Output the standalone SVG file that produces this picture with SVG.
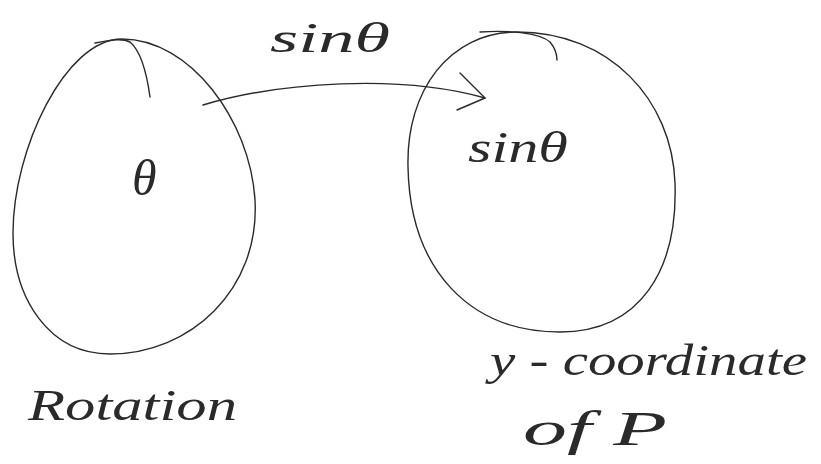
<svg xmlns="http://www.w3.org/2000/svg" width="821" height="464" viewBox="0 0 821 464">
<style>
.ln{fill:none;stroke:#2a2a2a;stroke-width:1.4;stroke-linecap:round;stroke-linejoin:round}
.tx{font-family:"Liberation Serif",serif;font-style:italic;fill:#2a2a2a}
</style>
<rect width="821" height="464" fill="#ffffff"/>
<g id="node-rotation">
<path class="ln" d="M 122,39 C 190,39 250,120 255,200 C 260,290 190,354 110,354 C 50,354 13,300 13,233 C 13,150 65,39 122,39 Z"/>
<path class="ln" d="M 95,43 C 110,40 122,38 130,42 C 142,52 147,75 150,97"/>
<text class="tx" x="132" y="195" font-size="50">θ</text>
<text class="tx" x="28" y="420" font-size="44" textLength="209" lengthAdjust="spacingAndGlyphs">Rotation</text>
</g>
<g id="node-ycoord">
<path class="ln" d="M 517,32 C 610,32 672,100 675,183 C 678,270 640,332 560,332 C 470,332 410,270 408,167 C 406,90 450,32 517,32 Z"/>
<path class="ln" d="M 480,32 C 510,30 540,33 550,42 C 555,48 557,55 557,60"/>
<text class="tx" x="468" y="162" font-size="44" textLength="100" lengthAdjust="spacingAndGlyphs">sinθ</text>
<text class="tx" x="490" y="375" font-size="44" textLength="317" lengthAdjust="spacingAndGlyphs">y - coordinate</text>
<text class="tx" x="523" y="445" font-size="48" textLength="144" lengthAdjust="spacingAndGlyphs">of P</text>
</g>
<g id="connectors">
<path class="ln" d="M 203,105 C 280,82 400,74 485,98"/>
<polyline class="ln" points="460,73 485,98 457,110"/>
<text class="tx" x="270" y="52" font-size="42" textLength="120" lengthAdjust="spacingAndGlyphs">sinθ</text>
</g>
</svg>
